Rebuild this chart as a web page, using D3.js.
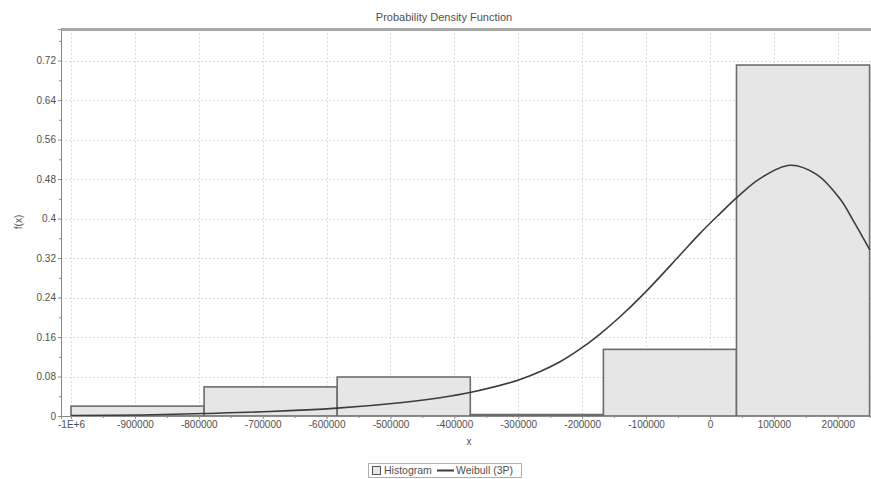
<!DOCTYPE html>
<html>
<head>
<meta charset="utf-8">
<script src="https://cdn.jsdelivr.net/npm/d3@7/dist/d3.min.js"></script>
<style>
  html, body { margin: 0; padding: 0; background: #fff; }
  svg { display: block; font-family: "Liberation Sans", Arial, sans-serif; }
</style>
</head>
<body>
<svg id="chart" width="871" height="479"></svg>
<script>
// Histogram bins (edges) and their relative frequencies
const binEdges = [-1000000, -791700, -583400, -375100, -166800, 41500, 249800];
const binDensity = [0.020, 0.059, 0.079, 0.003, 0.135, 0.711];

// Fitted Weibull (3P) density, sampled points
const curveX = [-1000000, -892000, -793000, -688600, -583700, -485000, -422500, -374000,
  -297300, -234700, -187800, -172100, -140800, -101700, -46900, -15600, 15600, 42300,
  78200, 125200, 167400, 203400, 223800, 250400];
const curveY = [0.001, 0.002, 0.005, 0.009, 0.016, 0.027, 0.037, 0.048,
  0.074, 0.110, 0.150, 0.166, 0.201, 0.250, 0.326, 0.370, 0.410, 0.443,
  0.481, 0.508, 0.489, 0.440, 0.397, 0.336];

// Axis ticks
const xTicks = [-1000000, -900000, -800000, -700000, -600000, -500000, -400000, -300000, -200000, -100000, 0, 100000, 200000];
const xTickLabels = ["-1E+6", "-900000", "-800000", "-700000", "-600000", "-500000", "-400000", "-300000", "-200000", "-100000", "0", "100000", "200000"];
const xMinorTicks = [-950000, -850000, -750000, -650000, -550000, -450000, -350000, -250000, -150000, -50000, 50000, 150000, 250000];
const yTicks = [0, 0.08, 0.16, 0.24, 0.32, 0.4, 0.48, 0.56, 0.64, 0.72];
const yTickLabels = ["0", "0.08", "0.16", "0.24", "0.32", "0.4", "0.48", "0.56", "0.64", "0.72"];
const yMinorTicks = [0.04, 0.12, 0.2, 0.28, 0.36, 0.44, 0.52, 0.6, 0.68, 0.76];

const plot = { left: 61, top: 29, right: 871, bottom: 416 };

const svg = d3.select("#chart");
const textColor = "#505050";

const x = d3.scaleLinear().domain([-1015650, 252000]).range([plot.left, plot.right]);
const y = d3.scaleLinear().domain([0, 0.784]).range([plot.bottom, plot.top]);

// Title
svg.append("text")
  .attr("x", 444).attr("y", 21)
  .attr("text-anchor", "middle")
  .attr("font-size", 11)
  .attr("fill", textColor)
  .text("Probability Density Function");

// Grid lines (dotted)
const grid = svg.append("g").attr("stroke", "#dcdcdc").attr("stroke-dasharray", "2,2").attr("stroke-width", 1);
grid.selectAll("line.v").data(xTicks).join("line")
  .attr("x1", d => Math.round(x(d)) + 0.5).attr("x2", d => Math.round(x(d)) + 0.5)
  .attr("y1", plot.top).attr("y2", plot.bottom);
grid.selectAll("line.h").data(yTicks.filter(d => d > 0)).join("line")
  .attr("x1", plot.left).attr("x2", plot.right)
  .attr("y1", d => Math.round(y(d)) + 0.5).attr("y2", d => Math.round(y(d)) + 0.5);

// Histogram bars
const bins = binDensity.map((v, i) => ({ x0: binEdges[i], x1: binEdges[i + 1], v }));
svg.append("g").selectAll("rect").data(bins).join("rect")
  .attr("x", d => x(d.x0))
  .attr("y", d => y(d.v))
  .attr("width", d => x(d.x1) - x(d.x0))
  .attr("height", d => y(0) - y(d.v))
  .attr("fill", "#e6e6e6")
  .attr("stroke", "#6c6c6c")
  .attr("stroke-width", 1.6);

// Weibull curve
const line = d3.line()
  .x((d, i) => x(curveX[i]))
  .y(d => y(d))
  .curve(d3.curveCatmullRom.alpha(0.5));
svg.append("path")
  .datum(curveY)
  .attr("d", line)
  .attr("fill", "none")
  .attr("stroke", "#3c3c3c")
  .attr("stroke-width", 1.6);

// Top frame line
svg.append("line")
  .attr("x1", plot.left).attr("x2", plot.right)
  .attr("y1", plot.top + 0.5).attr("y2", plot.top + 0.5)
  .attr("stroke", "#a8a8a8").attr("stroke-width", 3);

// Axes
function styleAxis(g) {
  g.selectAll(".domain").attr("stroke", "#8a8a8a");
  g.selectAll(".tick line").attr("stroke", "#8a8a8a");
  g.selectAll(".tick text").attr("fill", textColor).attr("font-size", 10)
    .attr("font-family", "Liberation Sans, Arial, sans-serif");
}

const yAxis = svg.append("g")
  .attr("transform", `translate(${plot.left},0)`)
  .call(d3.axisLeft(y).tickValues(yTicks).tickFormat((d, i) => yTickLabels[i]).tickSizeOuter(0).tickSize(3).tickPadding(2));
styleAxis(yAxis);
const yMinor = svg.append("g")
  .attr("transform", `translate(${plot.left},0)`)
  .call(d3.axisLeft(y).tickValues(yMinorTicks).tickFormat("").tickSizeOuter(0).tickSize(2));
styleAxis(yMinor);

const xAxis = svg.append("g")
  .attr("transform", `translate(0,${plot.bottom})`)
  .call(d3.axisBottom(x).tickValues(xTicks).tickFormat((d, i) => xTickLabels[i]).tickSizeOuter(0).tickSize(3).tickPadding(2));
styleAxis(xAxis);
const xMinor = svg.append("g")
  .attr("transform", `translate(0,${plot.bottom})`)
  .call(d3.axisBottom(x).tickValues(xMinorTicks).tickFormat("").tickSizeOuter(0).tickSize(2));
styleAxis(xMinor);

// Axis titles
svg.append("text")
  .attr("x", 469).attr("y", 445)
  .attr("text-anchor", "middle")
  .attr("font-size", 10).attr("fill", textColor)
  .text("x");
svg.append("text")
  .attr("transform", "translate(22,222) rotate(-90)")
  .attr("text-anchor", "middle")
  .attr("font-size", 10).attr("fill", textColor)
  .text("f(x)");

// Legend
const legend = svg.append("g").attr("transform", "translate(368,463)");
legend.append("rect")
  .attr("x", 0.5).attr("y", 0.5).attr("width", 153).attr("height", 14)
  .attr("fill", "#fff").attr("stroke", "#b0b0b0");
legend.append("rect")
  .attr("x", 4.5).attr("y", 3.5).attr("width", 8).attr("height", 8)
  .attr("fill", "#e6e6e6").attr("stroke", "#555");
legend.append("text")
  .attr("x", 16).attr("y", 11)
  .attr("font-size", 10.5).attr("fill", textColor)
  .text("Histogram");
legend.append("line")
  .attr("x1", 69).attr("x2", 86).attr("y1", 7.5).attr("y2", 7.5)
  .attr("stroke", "#3c3c3c").attr("stroke-width", 2);
legend.append("text")
  .attr("x", 88).attr("y", 11)
  .attr("font-size", 10.5).attr("fill", textColor)
  .text("Weibull (3P)");
</script>
</body>
</html>
